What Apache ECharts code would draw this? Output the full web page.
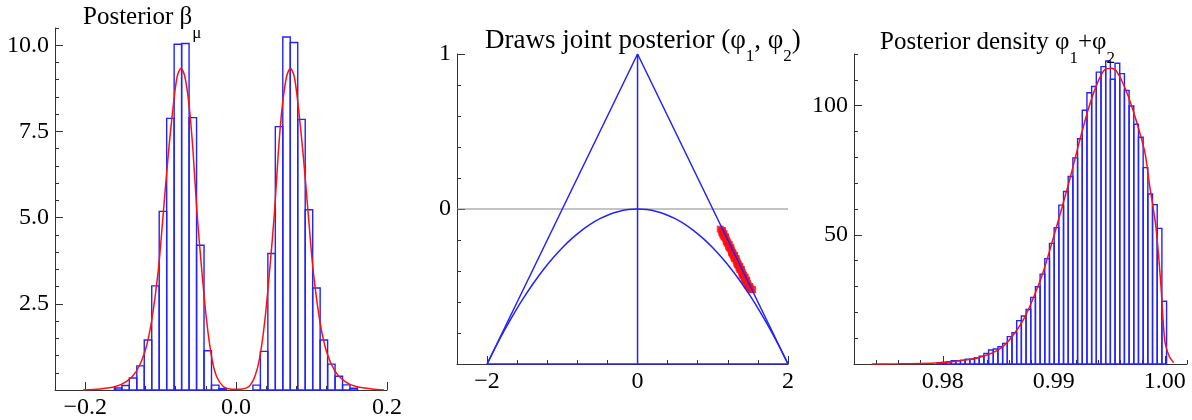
<!DOCTYPE html>
<html>
<head>
<meta charset="utf-8">
<script src="https://cdn.jsdelivr.net/npm/echarts@6/dist/echarts.min.js"></script>
<style>
html, body { margin: 0; background: #fff; }
#main { width: 1192px; height: 420px; }
</style>
</head>
<body>
<div id="main"></div>
<script>
// panel 1: posterior beta_mu, two histograms + density
var betaBinW = 0.0099
var betaLeftStart = -0.1613
var betaLeftH = [0.06, 0.13, 0.35, 0.70, 1.45, 3.02, 5.18, 7.88, 10.03, 10.05, 7.90, 4.20, 1.14, 0.14, 0.04]
var betaRightStart = 0.0223
var betaRightH = [0.14, 1.12, 3.96, 7.64, 10.24, 10.08, 7.85, 5.23, 2.96, 1.45, 0.75, 0.40, 0.15, 0.05]
var betaCurve = [
  [-0.203, 0.0], [-0.18, 0.03], [-0.16, 0.1], [-0.145, 0.25], [-0.132, 0.55], [-0.121, 1.1],
  [-0.112, 2.0], [-0.103, 3.5], [-0.097, 5.0], [-0.090, 6.8], [-0.083, 8.3], [-0.078, 9.1],
  [-0.073, 9.33], [-0.068, 9.1], [-0.062, 8.2], [-0.057, 6.9], [-0.052, 5.2], [-0.046, 3.6],
  [-0.039, 2.0], [-0.032, 0.9], [-0.026, 0.4], [-0.017, 0.1], [-0.008, 0.03], [0, 0.02],
  [0.008, 0.03], [0.017, 0.1], [0.025, 0.4], [0.031, 0.9], [0.038, 2.0], [0.045, 3.6],
  [0.051, 5.2], [0.056, 6.9], [0.061, 8.2], [0.067, 9.1], [0.072, 9.33], [0.077, 9.1],
  [0.082, 8.3], [0.089, 6.8], [0.096, 5.0], [0.102, 3.5], [0.111, 2.0], [0.120, 1.1],
  [0.131, 0.55], [0.144, 0.25], [0.159, 0.1], [0.18, 0.03], [0.196, 0.0]
]
var betaXLabels = [-0.2, 0, 0.2]
var betaYLabels = [2.5, 5, 7.5, 10]

// panel 2: draws of (phi1, phi2) inside the stationarity triangle
var triangle = [[-2, -1], [0, 1], [2, -1], [-2, -1]]
var centerLine = [[0, -1], [0, 1]]
var zeroLine = [[-2.4, 0], [2, 0]]
var parabola = [
  [-2, -1], [-1.875, -0.87890625], [-1.75, -0.765625], [-1.625, -0.66015625], [-1.5, -0.5625],
  [-1.375, -0.47265625], [-1.25, -0.390625], [-1.125, -0.31640625], [-1, -0.25],
  [-0.875, -0.19140625], [-0.75, -0.140625], [-0.625, -0.09765625], [-0.5, -0.0625],
  [-0.375, -0.03515625], [-0.25, -0.015625], [-0.125, -0.00390625], [0, 0],
  [0.125, -0.00390625], [0.25, -0.015625], [0.375, -0.03515625], [0.5, -0.0625],
  [0.625, -0.09765625], [0.75, -0.140625], [0.875, -0.19140625], [1, -0.25],
  [1.125, -0.31640625], [1.25, -0.390625], [1.375, -0.47265625], [1.5, -0.5625],
  [1.625, -0.66015625], [1.75, -0.765625], [1.875, -0.87890625], [2, -1]
]
var draws = [
  [1.10, -0.13], [1.12, -0.14], [1.13, -0.14], [1.12, -0.15], [1.13, -0.16], [1.14, -0.16],
  [1.15, -0.16], [1.14, -0.17], [1.15, -0.18], [1.16, -0.18], [1.17, -0.18], [1.17, -0.19],
  [1.18, -0.20], [1.18, -0.21], [1.19, -0.21], [1.19, -0.22], [1.20, -0.22], [1.21, -0.23],
  [1.22, -0.23], [1.21, -0.24], [1.22, -0.25], [1.23, -0.25], [1.24, -0.25], [1.24, -0.26],
  [1.25, -0.27], [1.25, -0.28], [1.26, -0.28], [1.26, -0.29], [1.27, -0.29], [1.28, -0.30],
  [1.29, -0.30], [1.28, -0.31], [1.29, -0.32], [1.30, -0.32], [1.31, -0.32], [1.31, -0.33],
  [1.32, -0.34], [1.32, -0.35], [1.33, -0.35], [1.33, -0.36], [1.34, -0.36], [1.35, -0.37],
  [1.36, -0.37], [1.35, -0.38], [1.36, -0.39], [1.37, -0.39], [1.38, -0.39], [1.38, -0.40],
  [1.39, -0.41], [1.39, -0.42], [1.40, -0.42], [1.40, -0.43], [1.41, -0.43], [1.42, -0.44],
  [1.43, -0.44], [1.42, -0.45], [1.43, -0.46], [1.44, -0.46], [1.45, -0.46], [1.45, -0.47],
  [1.46, -0.48], [1.46, -0.49], [1.47, -0.49], [1.48, -0.50], [1.49, -0.50], [1.49, -0.51],
  [1.50, -0.51], [1.51, -0.52], [1.53, -0.52]
]
var phiXLabels = [-2, 0, 2]
var phiYLabels = [0, 1]

// panel 3: posterior density of phi1 + phi2
var sumBinStart = 0.979482
var sumBinW = 0.000422
var sumH = [0.4, 0.6, 0.9, 1.3, 1.3, 1.5, 1.9, 1.9, 2.4, 3.0, 4.1, 5.4, 5.8, 6.7, 8.0, 10.6, 12.1,
  16.8, 18.6, 21.1, 25.8, 29.9, 34.8, 40.8, 46.7, 52.8, 61.5, 66.8, 72.6, 79.8, 87.2, 98.2,
  105.0, 107.4, 113.0, 115.1, 117.3, 110.2, 116.4, 112.4, 105.9, 99.9, 92.8, 87.8, 76.0,
  65.8, 61.7, 52.5, 24.3]
var sumCurve = [
  [0.9736, 0], [0.9760, 0.05], [0.9780, 0.2], [0.9797, 0.5], [0.9810, 1.0], [0.9822, 1.6],
  [0.9835, 2.8], [0.9848, 5.0], [0.9856, 7.5], [0.9864, 11.5], [0.9873, 17.5], [0.9881, 25],
  [0.9890, 35], [0.9898, 46.5], [0.9907, 60], [0.9915, 72.5], [0.9923, 86], [0.9932, 100],
  [0.9940, 109.5], [0.9946, 114], [0.9952, 114.5], [0.9957, 113], [0.9965, 106], [0.9973, 96],
  [0.9982, 82], [0.9986, 70], [0.9992, 53], [0.99964, 31], [1.0000, 9], [1.0004, 3], [1.0008, 0.5]
]
var sumXLabels = [0.98, 0.99, 1.0]
var sumYLabels = [50, 100]

var FONT = 'Liberation Serif'
var BLUE = '#2323ff'
var RED = '#ff1010'
var AXIS = '#333'

function bins (start, w, heights) {
  return heights.map(function (h, i) { return [start + i * w, start + (i + 1) * w, h] })
}

function renderBar (params, api) {
  var p0 = api.coord([api.value(0), api.value(2)])
  var p1 = api.coord([api.value(1), 0])
  return {
    type: 'rect',
    shape: { x: p0[0], y: p0[1], width: p1[0] - p0[0], height: p1[1] - p0[1] },
    style: { fill: 'none', stroke: BLUE, lineWidth: 1.4 }
  }
}

// main axis: line, minor ticks, labels at the given values
function mainAxis (grid, pos, min, max, step, labels, digits) {
  return {
    type: 'value', gridIndex: grid, position: pos, min: min, max: max, interval: step,
    axisLine: { show: true, onZero: false, lineStyle: { color: AXIS, width: 1 } },
    axisTick: { show: true, inside: true, length: 4, lineStyle: { color: AXIS } },
    axisLabel: {
      customValues: labels, margin: 6,
      formatter: function (v) { return v.toFixed(digits).replace('-', '\u2212') },
      fontFamily: FONT, fontSize: 24, color: '#000'
    },
    splitLine: { show: false }
  }
}
// overlay axis: longer major ticks only
function majorAxis (grid, pos, min, max, ticks) {
  return {
    type: 'value', gridIndex: grid, position: pos, min: min, max: max,
    axisLine: { show: false, onZero: false },
    axisTick: { show: true, inside: true, length: 8, customValues: ticks, lineStyle: { color: AXIS } },
    axisLabel: { show: false },
    splitLine: { show: false }
  }
}

function titleRich (text, left, top, size) {
  return {
    text: text, left: left, top: top, padding: 0,
    textStyle: {
      fontFamily: FONT, fontWeight: 'normal',
      rich: {
        m: { fontFamily: FONT, fontWeight: 'normal', fontSize: size, color: '#000' },
        s: { fontFamily: FONT, fontWeight: 'normal', fontSize: 17, color: '#000', padding: [32, 0, 0, 0] }
      }
    }
  }
}

var chart = echarts.init(document.getElementById('main'))
chart.setOption({
  animation: false,
  title: [
    titleRich('{m|Posterior β}{s|μ}', 83, -7, 25),
    titleRich('{m|Draws joint posterior (φ}{s|1}{m|, φ}{s|2}{m|)}', 485, 16, 27),
    titleRich('{m|Posterior density φ}{s|1}{m|+φ}{s|2}', 880, 18, 25)
  ],
  grid: [
    { left: 55, top: 28, width: 332, height: 363 },
    { left: 457, top: 54, width: 331, height: 310 },
    { left: 854, top: 54, width: 333, height: 310 }
  ],
  xAxis: [
    mainAxis(0, 'bottom', -0.24, 0.2, 0.04, betaXLabels, 1),
    majorAxis(0, 'bottom', -0.24, 0.2, betaXLabels),
    mainAxis(1, 'bottom', -2.4, 2, 0.4, phiXLabels, 0),
    majorAxis(1, 'bottom', -2.4, 2, phiXLabels),
    mainAxis(2, 'bottom', 0.972, 1.002, 0.002, sumXLabels, 2),
    majorAxis(2, 'bottom', 0.972, 1.002, sumXLabels)
  ],
  yAxis: [
    mainAxis(0, 'left', 0, 10.5, 0.5, betaYLabels, 1),
    majorAxis(0, 'left', 0, 10.5, betaYLabels),
    mainAxis(1, 'left', -1, 1, 0.2, phiYLabels, 0),
    majorAxis(1, 'left', -1, 1, [-1, 0, 1]),
    mainAxis(2, 'left', 0, 120, 10, sumYLabels, 0),
    majorAxis(2, 'left', 0, 120, sumYLabels)
  ],
  series: [
    { type: 'custom', xAxisIndex: 0, yAxisIndex: 0, renderItem: renderBar, encode: { x: [0, 1], y: 2 }, data: bins(betaLeftStart, betaBinW, betaLeftH) },
    { type: 'custom', xAxisIndex: 0, yAxisIndex: 0, renderItem: renderBar, encode: { x: [0, 1], y: 2 }, data: bins(betaRightStart, betaBinW, betaRightH) },
    { type: 'line', xAxisIndex: 0, yAxisIndex: 0, data: betaCurve, smooth: 0.3, symbol: 'none', lineStyle: { color: RED, width: 1.5 } },

    { type: 'line', xAxisIndex: 2, yAxisIndex: 2, data: zeroLine, symbol: 'none', lineStyle: { color: '#888', width: 1 } },
    { type: 'line', xAxisIndex: 2, yAxisIndex: 2, data: triangle, symbol: 'none', lineStyle: { color: BLUE, width: 1.5 } },
    { type: 'line', xAxisIndex: 2, yAxisIndex: 2, data: centerLine, symbol: 'none', lineStyle: { color: BLUE, width: 1.5 } },
    { type: 'line', xAxisIndex: 2, yAxisIndex: 2, data: parabola, smooth: 0.2, symbol: 'none', lineStyle: { color: BLUE, width: 1.5 } },
    { type: 'scatter', xAxisIndex: 2, yAxisIndex: 2, data: draws, symbol: 'rect', symbolSize: 7, itemStyle: { color: RED } },

    { type: 'custom', xAxisIndex: 4, yAxisIndex: 4, renderItem: renderBar, encode: { x: [0, 1], y: 2 }, data: bins(sumBinStart, sumBinW, sumH) },
    { type: 'line', xAxisIndex: 4, yAxisIndex: 4, data: sumCurve, smooth: 0.3, symbol: 'none', lineStyle: { color: RED, width: 1.5 } }
  ]
})
</script>
</body>
</html>
